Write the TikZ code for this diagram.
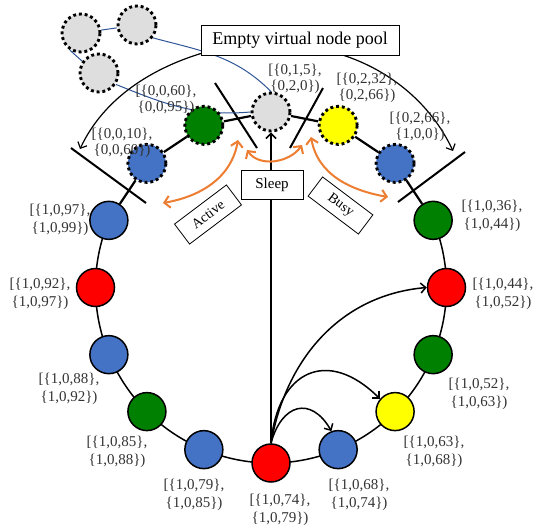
\documentclass[tikz,border=0pt]{standalone}
\usepackage{fontspec}
\setmainfont{Liberation Serif}
\usetikzlibrary{calc,backgrounds,arrows.meta,shadows}
\definecolor{nblue}{HTML}{4472C4}
\definecolor{nred}{HTML}{FF0000}
\definecolor{ngreen}{HTML}{008000}
\definecolor{nyellow}{HTML}{FFFF00}
\definecolor{ngray}{HTML}{DEDEDE}
\definecolor{linkblue}{HTML}{2F5597}
\definecolor{corange}{HTML}{ED7D31}
\definecolor{labgray}{HTML}{333333}
\begin{document}
\begin{tikzpicture}[x=1pt,y=1pt,
  vnode/.style={circle, draw=black, line width=1.5pt, minimum size=38pt, inner sep=0pt},
  idle/.style={vnode, line width=2.9pt, dash pattern=on 2.9pt off 2.9pt},
  lab/.style={align=center, text=labgray, inner sep=0pt, font=\fontsize{15}{17.5}\selectfont},
  labtop/.style={lab, font=\fontsize{15}{15.5}\selectfont},
  ring/.style={line width=1.5pt},
  tie/.style={line width=2.2pt},
  cut/.style={line width=2pt},
  hop/.style={line width=1.5pt, -{Straight Barb[length=5pt,width=10pt]}},
  jump/.style={line width=1.2pt, -{Straight Barb[length=5pt,width=10pt]}},
  swap/.style={corange, line width=2pt,
    {Straight Barb[length=5.5pt,width=12pt]}-{Straight Barb[length=5.5pt,width=12pt]}},
  pool/.style={linkblue, line width=1pt},
  tag/.style={draw, line width=0.8pt, fill=white, inner sep=0pt},
  shade/.style={general shadow={fill=black!45, shadow xshift=1.3pt, shadow yshift=-1.3pt}},
]
\useasboundingbox (0,0) rectangle (534,530);

\coordinate (C) at (271,242.5);

% ring of virtual nodes
\node[idle, fill=ngray]   (n0)  at ($(C)+(90:175.5)$) {};
\node[idle, fill=nyellow] (n1)  at ($(C)+(67.5:175.5)$) {};
\node[idle, fill=nblue]   (n2)  at ($(C)+(45:175.5)$) {};
\node[vnode, fill=ngreen] (n3)  at ($(C)+(22.5:175.5)$) {};
\node[vnode, fill=nred]   (n4)  at ($(C)+(0:175.5)$) {};
\node[vnode, fill=ngreen] (n5)  at ($(C)+(-22.5:175.5)$) {};
\node[vnode, fill=nyellow](n6)  at ($(C)+(-45:175.5)$) {};
\node[vnode, fill=nblue]  (n7)  at ($(C)+(-67.5:175.5)$) {};
\node[vnode, fill=nred]   (n8)  at ($(C)+(-90:175.5)$) {};
\node[vnode, fill=nblue]  (n9)  at ($(C)+(-112.5:175.5)$) {};
\node[vnode, fill=ngreen] (n10) at ($(C)+(-135:175.5)$) {};
\node[vnode, fill=nblue]  (n11) at ($(C)+(-157.5:175.5)$) {};
\node[vnode, fill=nred]   (n12) at ($(C)+(180:175.5)$) {};
\node[vnode, fill=nblue]  (n13) at ($(C)+(157.5:175.5)$) {};
\node[idle, fill=nblue]   (n14) at ($(C)+(135:175.5)$) {};
\node[idle, fill=ngreen]  (n15) at ($(C)+(112.5:175.5)$) {};

% pool of empty virtual nodes
\node[idle, fill=ngray] (pa) at (81,497) {};
\node[idle, fill=ngray] (pb) at (137,505) {};
\node[idle, fill=ngray] (pc) at (99,457) {};

% boxes
\node[tag, shade, minimum width=198pt, minimum height=30pt,
      font=\fontsize{18}{20}\selectfont] (poolbox) at (300,490) {Empty virtual node pool};
\node[tag, shade, minimum width=62pt, minimum height=29pt,
      font=\fontsize{15}{17}\selectfont] (sleep) at (272,345.5) {Sleep};
\node[tag, minimum width=65pt, minimum height=25pt, rotate=37,
      font=\fontsize{14}{16}\selectfont] (active) at (208,315.5) {Active};
\node[tag, minimum width=63pt, minimum height=24pt, rotate=-37,
      font=\fontsize{14}{16}\selectfont] (busy) at (340.5,324.5) {Busy};

% range labels
\node[labtop] (l15) at (166,430) {[\{0,0,60\},\\\{0,0,95\})};
\node[labtop] (l14) at (122,387) {[\{0,0,10\},\\\{0,0,60\})};
\node[labtop] (l0)  at (295,451) {[\{0,1,5\},\\\{0,2,0\})};
\node[labtop] (l1)  at (367,442) {[\{0,2,32\},\\\{0,2,66\})};
\node[labtop] (l2)  at (420,403) {[\{0,2,66\},\\\{1,0,0\})};
\node[lab] (l13) at (60,310)  {[\{1,0,97\},\\\{1,0,99\})};
\node[lab] (l12) at (40,236)  {[\{1,0,92\},\\\{1,0,97\})};
\node[lab] (l11) at (69,141)  {[\{1,0,88\},\\\{1,0,92\})};
\node[lab] (l10) at (117,78)  {[\{1,0,85\},\\\{1,0,88\})};
\node[lab] (l9)  at (194,35)  {[\{1,0,79\},\\\{1,0,85\})};
\node[lab] (l8)  at (280,20)  {[\{1,0,74\},\\\{1,0,79\})};
\node[lab] (l7)  at (359,35)  {[\{1,0,68\},\\\{1,0,74\})};
\node[lab] (l6)  at (434,78)  {[\{1,0,63\},\\\{1,0,68\})};
\node[lab] (l5)  at (479,136) {[\{1,0,52\},\\\{1,0,63\})};
\node[lab] (l4)  at (503,236) {[\{1,0,44\},\\\{1,0,52\})};
\node[lab] (l3)  at (492,314) {[\{1,0,36\},\\\{1,0,44\})};

% free ends of the open connectors
\coordinate (s1a) at (71,382);  \coordinate (s1b) at (146,327);
\coordinate (s2a) at (215,447); \coordinate (s2b) at (257,382);
\coordinate (s3a) at (323,442); \coordinate (s3b) at (290,382);
\coordinate (s4a) at (465,378); \coordinate (s4b) at (398,328);
\coordinate (al0) at (206,478); \coordinate (al1) at (80,381);
\coordinate (ar0) at (336,477); \coordinate (ar1) at (453,379);
\coordinate (o1a) at (163,327); \coordinate (o1b) at (238,390);
\coordinate (o2a) at (247,380); \coordinate (o2b) at (302,385);
\coordinate (o3a) at (311,393); \coordinate (o3b) at (388,333);

\begin{scope}[on background layer]
  % ring links
  \draw[ring] ($(C)+(157.5:175.5)$) arc[start angle=157.5, end angle=382.5, radius=175.5];
  \draw[tie] (n13) -- (n14) -- (n15) -- (n0) -- (n1) -- (n2) -- (n3);
  % segment cuts
  \draw[cut] (s1a) -- (s1b);
  \draw[cut] (s2a) -- (s2b);
  \draw[cut] (s3a) -- (s3b);
  \draw[cut] (s4a) -- (s4b);
  % pool links
  \draw[pool] (pa) -- (pb);
  \draw[pool] (pa.237) -- (pc.145);
  \draw[pool] (pb.-39) to[out=-15,in=135] (n0.north);
  \draw[pool] (pc.-34) to[out=-22,in=185] (n0.west);
  % pool hand-out arcs
  \draw[jump] (al0) to[out=196,in=65,looseness=0.9] (al1);
  \draw[jump] (ar0) to[out=-16,in=115,looseness=0.9] (ar1);
  % jumps from the bottom node
  \draw[hop] (n8.north) -- (n0.south);
  \draw[hop] (n8.north) to[out=80,in=185] (n4.west);
  \draw[hop] (n8.north) to[out=85,in=135,looseness=1.6] (n6.140);
  \draw[hop] (n8.north) to[out=75,in=120,looseness=1.7] (n7.110);
  % state changes
  \draw[swap] (o1a) to[out=10,in=-100] (o1b);
  \draw[swap] (o2a) to[out=-55,in=-125] (o2b);
  \draw[swap] (o3a) to[out=-80,in=170] (o3b);
\end{scope}
\end{tikzpicture}
\end{document}
